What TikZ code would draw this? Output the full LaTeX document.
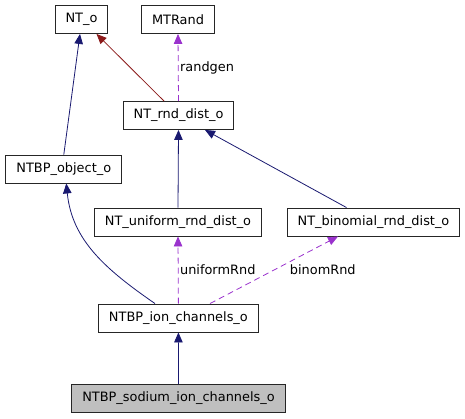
\documentclass[tikz,border=0pt]{standalone}
\usepackage{fontspec}
\setmainfont{DejaVu Sans}
\usetikzlibrary{arrows.meta}
\definecolor{inhblue}{HTML}{191970}
\definecolor{usered}{HTML}{8B1A1A}
\definecolor{membpurple}{HTML}{9A32CD}

\begin{document}
\begin{tikzpicture}[
    x=1pt, y=-1pt,
    >={Triangle[length=10pt, width=8.5pt]},
    every node/.style={font=\fontsize{12.9}{15}\selectfont},
    cls/.style={draw=black!85, line width=0.9pt, fill=white, minimum height=28pt, inner xsep=10.5pt},
    inh/.style={->, inhblue, line width=0.8pt},
    priv/.style={->, usered, line width=0.8pt},
    memb/.style={->, membpurple, line width=0.8pt, dash pattern=on 6pt off 4pt},
    memblabel/.style={anchor=west, inner sep=1.5pt, text=black},
]
\useasboundingbox (0,0) rectangle (465,419);
% classes
\node[cls] (nto)      at (81.5,19.5)  {NT\_o};
\node[cls] (mtrand)   at (178,19.5)   {MTRand};
\node[cls] (rnd)      at (178.5,115.5){NT\_rnd\_dist\_o};
\node[cls] (obj)      at (63.8,169)   {NTBP\_object\_o};
\node[cls] (uniform)  at (178,222)    {NT\_uniform\_rnd\_dist\_o};
\node[cls] (binomial) at (373.5,222)  {NT\_binomial\_rnd\_dist\_o};
\node[cls] (ion)      at (178.4,318)  {NTBP\_ion\_channels\_o};
\node[cls, fill=black!25] (sodium) at (178.5,398.5) {NTBP\_sodium\_ion\_channels\_o};
% inheritance
\draw[inh] (obj.north) -- ([xshift=-1.5]nto.south);
\draw[priv] ([xshift=-14.5]rnd.north) -- ([xshift=15]nto.south);
\draw[inh] (uniform.north) -- (rnd.south);
\draw[inh] ([xshift=-27]binomial.north) -- ([xshift=26.5]rnd.south);
\draw[inh] ([xshift=-23.4]ion.north) .. controls (105,269) and (72,240) .. ([xshift=2.5]obj.south);
\draw[inh] (sodium.north) -- (ion.south);
% members
\draw[memb] (rnd.north) -- (mtrand.south)
      node[memblabel, pos=0.5]{randgen};
\draw[memb] (ion.north) -- (uniform.south)
      node[memblabel, pos=0.5]{uniformRnd};
\draw[memb] ([xshift=31.6]ion.north) -- ([xshift=-35.5]binomial.south)
      node[memblabel, pos=0.5, xshift=14]{binomRnd};
\end{tikzpicture}
\end{document}
